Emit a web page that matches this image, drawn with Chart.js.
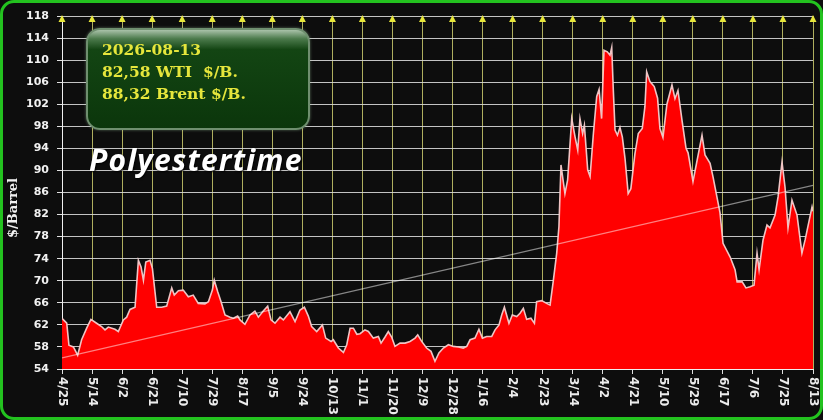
<!DOCTYPE html>
<html>
<head>
<meta charset="utf-8">
<script src="https://cdn.jsdelivr.net/npm/chart.js"></script>
<style>
  html, body { margin: 0; padding: 0; background: #0d0d0d; }
  #wrap { position: relative; width: 823px; height: 420px; background: #0d0d0d; overflow: hidden; }
  #frame { position: absolute; left: 0; top: 0; width: 823px; height: 420px; box-sizing: border-box;
           border: 3px solid #23c21f; border-radius: 14px; pointer-events: none; }
  canvas { position: absolute; left: 0; top: 0; }
  #infoBox { position: absolute; left: 86px; top: 28px; width: 224px; height: 102px; box-sizing: border-box;
             border: 2px solid #6f8f6f; border-radius: 14px; padding: 9px 0 0 14px;
             background: linear-gradient(to bottom, #a9c2a9 0%, #4b7a4b 9%, #134513 20%, #0b360b 100%);
             box-shadow: 0 0 3px rgba(160,200,160,0.5);
             font: bold 15.5px "DejaVu Serif"; line-height: 22px; color: #e6e63c; }
  #brand { position: absolute; left: 89px; top: 145px; font: italic bold 30px "Open Sans"; line-height: 30px;
           letter-spacing: 1.2px; color: #ffffff; text-shadow: 1px 1px 2px #000; }
</style>
</head>
<body>
<div id="wrap">
  <canvas id="oilChart" width="823" height="420"></canvas>
  <div id="infoBox">
    <div>2026-08-13</div>
    <div>82,58 WTI&nbsp; $/B.</div>
    <div>88,32 Brent $/B.</div>
  </div>
  <div id="brand">Polyestertime</div>
  <div id="frame"></div>
</div>
<script>
// dias desde 4/25 y precio WTI
const days = [0, 3, 4.4, 7.2, 9.9, 12.4, 15.6, 18.3, 21.9, 25, 27.2, 29.3, 33.5, 35.6, 38.8, 40.9, 43, 46.2,
  48.3, 50, 51.5, 53, 55.7, 57.2, 59.9, 63, 66.2, 69.4, 71, 73.6, 76.7, 79.9, 83, 86.2,
  90.4, 92.6, 95.1, 96.3, 98.5, 100.6, 103.1, 106.3, 108.4, 111.1, 112.6, 115.7, 118.9, 122, 124.2, 127.3,
  130.1, 132.2, 134.7, 137.9, 140, 144.2, 147.4, 150.5, 153.3, 155.8, 157.9, 161.1, 164.7, 166.8, 170.2,
  171.6, 174.8, 178, 180.1, 182.2, 184.3, 186.5, 188.5, 191.6, 193.8, 196.9, 200.1, 201.8, 204.3, 206.4,
  208.5, 210.6, 213.8, 217, 220.1, 223.3, 225, 227.5, 230.6, 233.4, 235.9, 238.4, 241.2, 244.4, 247.5,
  250.7, 253.8, 256, 258.1, 261.2, 263.7, 265.9, 268.6, 271.8, 273.9, 276.4, 278.1, 279.8,
  282.7, 284.8, 287.6, 289.7, 291.8, 293.9, 296.6, 298.8, 300.2, 303.4, 306.5, 308.7, 310.8, 312.9, 314.3,
  315.6, 318.1, 319.8, 322.4, 324.5, 326.2, 327.6, 329.3, 330.4, 332.5, 334, 336.1, 338.2, 339.7, 341.3,
  342.8, 344.9, 346.6, 347.7, 348.7, 349.8, 351.3, 352.9, 354.4, 356.1, 358.1, 359.8, 362.4, 364.5, 367,
  368.7, 369.8, 371.9, 374.6, 376.7, 378.2, 380.1, 382.6, 385.8, 387.7, 389.6, 392.2, 394.7, 396, 399.1,
  404.8, 406.7, 409.9, 411.8, 416.2, 418.1, 422.6, 425.7, 427, 430.2, 432.6, 435.2, 437.7, 439.6, 440.9,
  443.4, 445.9, 447.8, 451, 452.9, 455.4, 457.3, 459.2, 461.7, 464.9, 468, 470, 474.4, 475];
const wti = [63.2, 62.3, 58.3, 58.0, 56.5, 59.3, 61.4, 63.0, 62.3, 61.7, 61.1, 61.6, 61.2, 60.8, 62.9, 63.4, 64.8, 65.2,
  73.7, 72.5, 70.1, 73.4, 73.7, 72.2, 65.2, 65.2, 65.4, 68.7, 67.4, 68.2, 68.3, 67.1, 67.4, 65.9,
  65.8, 66.2, 68.3, 70.1, 68.0, 66.2, 63.8, 63.4, 63.2, 63.6, 62.9, 62.1, 63.8, 64.5, 63.4, 64.5,
  65.4, 62.9, 62.3, 63.4, 62.9, 64.4, 62.6, 64.7, 65.2, 63.6, 61.7, 60.8, 62.0, 59.6, 59.0,
  59.3, 57.8, 57.0, 58.4, 61.4, 61.4, 60.3, 60.4, 61.1, 60.8, 59.6, 59.9, 58.7, 59.8, 60.8,
  59.8, 58.1, 58.7, 58.7, 59.0, 59.6, 60.2, 59.0, 57.8, 57.2, 55.4, 56.9, 57.8, 58.4, 58.1,
  58.0, 57.8, 58.1, 59.3, 59.6, 61.2, 59.6, 59.9, 59.9, 61.1, 62.0, 63.8, 65.2,
  62.3, 63.8, 63.5, 64.1, 65.0, 63.0, 63.2, 62.3, 66.2, 66.4, 65.9, 65.6, 70.1, 75.0, 79.8,
  91.0, 85.8, 88.3, 99.4, 96.1, 93.7, 99.4, 96.7, 98.2, 90.1, 88.9, 96.7, 103.4, 104.7, 99.4,
  111.8, 111.5, 110.9, 112.3, 104.6, 97.3, 96.4, 97.8, 96.1, 92.2, 85.8, 86.7, 93.1, 96.7, 97.6,
  101.6, 107.9, 106.1, 105.2, 103.1, 97.6, 96.0, 102.0, 105.5, 103.0, 104.5, 99.0, 94.0, 93.2, 88.0,
  96.4, 92.8, 91.3, 88.8, 82.3, 76.8, 74.3, 72.0, 69.8, 69.8, 68.7, 68.9, 69.2, 75.0, 72.0,
  77.4, 80.1, 79.6, 81.9, 85.2, 91.5, 87.0, 79.6, 84.6, 81.9, 75.0, 77.4, 83.4, 82.6];

const trendDays = [0, 475];
const trendValues = [56.0, 87.3];

const tickLabels = ['4/25', '5/14', '6/2', '6/21', '7/10', '7/29', '8/17', '9/5', '9/24', '10/13', '11/1',
  '11/20', '12/9', '12/28', '1/16', '2/4', '2/23', '3/14', '4/2', '4/21', '5/10', '5/29', '6/17', '7/6',
  '7/25', '8/13'];
const tickStep = 19;
const yMin = 54, yMax = 118, yStep = 4;

// triangulos, etiquetas verticales y titulo del eje
const decorPlugin = {
  id: 'decor',
  afterDraw(chart) {
    const { ctx, chartArea, scales: { x } } = chart;
    ctx.save();
    tickLabels.forEach((lab, i) => {
      const px = x.getPixelForValue(i * tickStep);
      ctx.fillStyle = '#e6e63a';
      ctx.beginPath();
      ctx.moveTo(px, chartArea.top - 1);
      ctx.lineTo(px - 3.5, chartArea.top + 6);
      ctx.lineTo(px + 3.5, chartArea.top + 6);
      ctx.closePath();
      ctx.fill();

      ctx.save();
      ctx.translate(px, chartArea.bottom + 8);
      ctx.rotate(Math.PI / 2);
      ctx.fillStyle = '#ececec';
      ctx.font = 'bold 12px "DejaVu Sans"';
      ctx.textAlign = 'left';
      ctx.textBaseline = 'middle';
      ctx.fillText(lab, 0, 0);
      ctx.restore();
    });
    ctx.translate(14, 208);
    ctx.rotate(-Math.PI / 2);
    ctx.font = 'bold 13px "DejaVu Serif"';
    ctx.fillStyle = '#f0f0f0';
    ctx.textAlign = 'center';
    ctx.textBaseline = 'middle';
    ctx.fillText('$/Barrel', 0, 0);
    ctx.restore();
  }
};

new Chart(document.getElementById('oilChart'), {
  type: 'line',
  data: {
    datasets: [
      {
        label: 'Tendencia',
        data: trendDays.map((d, i) => ({ x: d, y: trendValues[i] })),
        borderColor: 'rgba(255,255,255,0.5)',
        borderWidth: 1.2,
        pointRadius: 0,
        fill: false,
        order: 1
      },
      {
        label: 'WTI',
        data: days.map((d, i) => ({ x: d, y: wti[i] })),
        borderColor: 'rgba(245,205,205,0.95)',
        borderWidth: 1.6,
        backgroundColor: '#ff0000',
        pointRadius: 0,
        tension: 0,
        fill: 'start',
        order: 2
      }
    ]
  },
  options: {
    responsive: false,
    animation: false,
    layout: { padding: { left: 0, right: 10, top: 16, bottom: 0 } },
    plugins: { legend: { display: false }, tooltip: { enabled: false } },
    scales: {
      x: {
        type: 'linear',
        min: 0,
        max: tickStep * (tickLabels.length - 1),
        afterBuildTicks: scale => { scale.ticks = tickLabels.map((_, i) => ({ value: i * tickStep })); },
        ticks: { display: false },
        grid: { color: 'rgba(205,205,110,0.85)', lineWidth: 1, drawTicks: true, tickLength: 5, tickColor: '#e0e0e0' },
        border: { color: '#f0f0f0', width: 1 },
        afterFit: scale => { scale.height = 51; }
      },
      y: {
        min: yMin,
        max: yMax,
        ticks: {
          stepSize: yStep,
          color: '#f2f2f2',
          padding: 8,
          font: { family: 'DejaVu Sans', weight: 'bold', size: 11 }
        },
        grid: { color: 'rgba(215,215,215,0.9)', lineWidth: 1, tickLength: 5, tickColor: '#e0e0e0' },
        border: { color: '#f0f0f0', width: 1 },
        afterFit: scale => { scale.width = 62; }
      }
    }
  },
  plugins: [decorPlugin]
});
</script>
</body>
</html>
